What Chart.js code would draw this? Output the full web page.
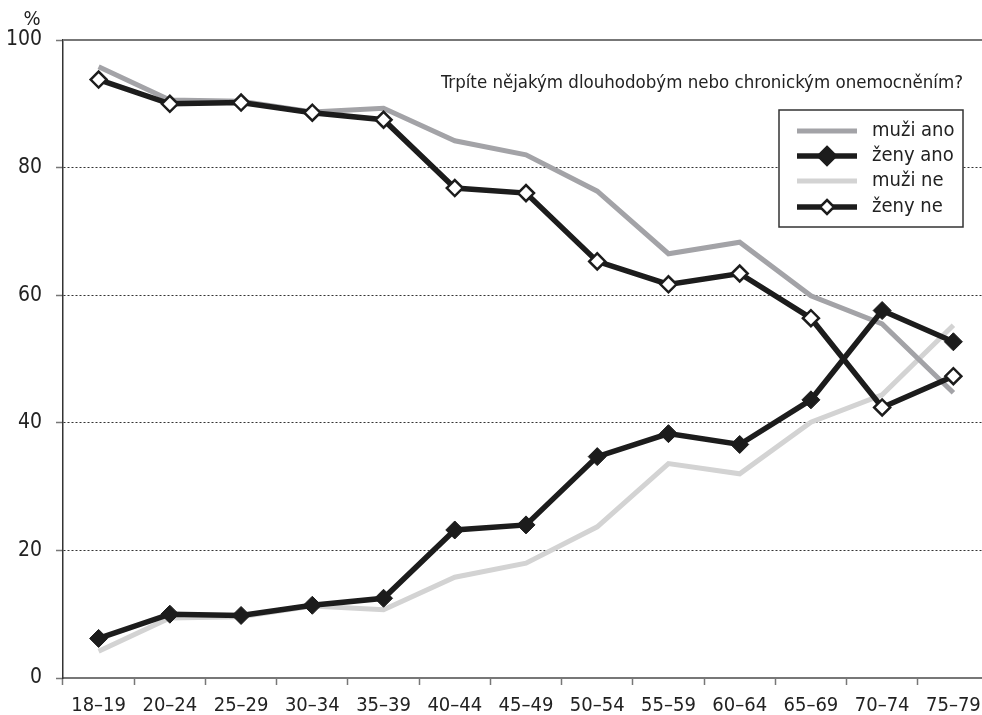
<!DOCTYPE html>
<html>
<head>
<meta charset="utf-8">
<script src="https://cdn.jsdelivr.net/npm/chart.js@4.4.1/dist/chart.umd.min.js"></script>
<style>
  html, body { margin: 0; padding: 0; overflow: hidden; background: #fff; }
  #wrap { width: 1000px; height: 715px; }
</style>
</head>
<body>
<div id="wrap"><canvas id="chart" width="1000" height="715"></canvas></div>
<script>
// age groups on the x axis
const categories = ["18–19", "20–24", "25–29", "30–34", "35–39", "40–44", "45–49",
                    "50–54", "55–59", "60–64", "65–69", "70–74", "75–79"];
const yTicks = [0, 20, 40, 60, 80, 100];

// share in % answering the question
const muziAno = [95.8, 90.6, 90.4, 88.7, 89.3, 84.2, 82.0, 76.3, 66.5, 68.3, 59.9, 55.5, 44.7];
const zenyAno = [6.2, 10.0, 9.8, 11.4, 12.5, 23.2, 24.0, 34.7, 38.3, 36.6, 43.6, 57.6, 52.7];
const muziNe  = [4.2, 9.4, 9.6, 11.3, 10.7, 15.8, 18.0, 23.7, 33.6, 32.0, 40.1, 44.4, 55.3];
const zenyNe  = [93.8, 90.0, 90.2, 88.6, 87.5, 76.8, 76.0, 65.3, 61.7, 63.4, 56.4, 42.4, 47.3];

const titleText = "Trpíte nějakým dlouhodobým nebo chronickým onemocněním?";
const FONT = "'Liberation Sans Narrow', 'DejaVu Sans Condensed', 'Arial Narrow', sans-serif";
const BLACK = "#1c1c1c";

function diamond(ctx, x, y, r, fill, lw) {
  ctx.beginPath();
  ctx.moveTo(x, y - r);
  ctx.lineTo(x + r, y);
  ctx.lineTo(x, y + r);
  ctx.lineTo(x - r, y);
  ctx.closePath();
  ctx.fillStyle = fill;
  ctx.fill();
  ctx.lineWidth = lw;
  ctx.strokeStyle = BLACK;
  ctx.stroke();
}

// top frame line, title, % label and the boxed legend
const extras = {
  id: "extras",
  beforeDatasetsDraw(chart) {
    const { ctx, chartArea: a } = chart;
    ctx.save();
    ctx.strokeStyle = "#777";
    ctx.lineWidth = 2;
    ctx.beginPath();
    ctx.moveTo(a.left, a.top);
    ctx.lineTo(a.right, a.top);
    ctx.stroke();
    ctx.restore();
  },
  afterDraw(chart) {
    const ctx = chart.ctx;
    ctx.save();
    ctx.fillStyle = "#222";
    ctx.font = "20px " + FONT;
    ctx.textAlign = "center";
    ctx.textBaseline = "middle";
    ctx.fillText("%", 32, 20);

    ctx.font = "18.5px " + FONT;
    ctx.textAlign = "right";
    ctx.fillText(titleText, 963, 83);

    // legend box
    const bx = 779, by = 110, bw = 184, bh = 117;
    ctx.fillStyle = "#fff";
    ctx.fillRect(bx, by, bw, bh);
    ctx.strokeStyle = "#333";
    ctx.lineWidth = 1.5;
    ctx.strokeRect(bx, by, bw, bh);

    const items = [
      { label: "muži ano", color: "#a3a3a7", width: 5, marker: null },
      { label: "ženy ano", color: BLACK, width: 5.5, marker: BLACK },
      { label: "muži ne", color: "#d3d3d3", width: 5, marker: null },
      { label: "ženy ne", color: BLACK, width: 5.5, marker: "#fff" }
    ];
    const rows = [131, 156, 181, 207];
    ctx.font = "20px " + FONT;
    ctx.textAlign = "left";
    items.forEach((it, i) => {
      const y = rows[i];
      ctx.strokeStyle = it.color;
      ctx.lineWidth = it.width;
      ctx.beginPath();
      ctx.moveTo(797, y);
      ctx.lineTo(857, y);
      ctx.stroke();
      if (it.marker) diamond(ctx, 827, y, it.marker === "#fff" ? 7 : 9, it.marker, 2.5);
      ctx.fillStyle = "#222";
      ctx.fillText(it.label, 872, y);
    });
    ctx.restore();
  }
};

const ctx = document.getElementById("chart").getContext("2d");
new Chart(ctx, {
  type: "line",
  data: {
    labels: categories,
    datasets: [
      {
        label: "ženy ne", data: zenyNe, order: 0,
        borderColor: BLACK, borderWidth: 5.5,
        pointStyle: "rectRot", pointRadius: 8, pointBorderWidth: 2.5,
        pointBackgroundColor: "#fff", pointBorderColor: BLACK
      },
      {
        label: "ženy ano", data: zenyAno, order: 1,
        borderColor: BLACK, borderWidth: 5.5,
        pointStyle: "rectRot", pointRadius: 9, pointBorderWidth: 1,
        pointBackgroundColor: BLACK, pointBorderColor: BLACK
      },
      {
        label: "muži ano", data: muziAno, order: 2,
        borderColor: "#a3a3a7", borderWidth: 5, pointRadius: 0
      },
      {
        label: "muži ne", data: muziNe, order: 3,
        borderColor: "#d3d3d3", borderWidth: 5, pointRadius: 0
      }
    ]
  },
  options: {
    responsive: false,
    animation: false,
    layout: { padding: { top: 40, right: 11, left: 0, bottom: 0 } },
    plugins: { legend: { display: false }, tooltip: { enabled: false } },
    elements: { line: { tension: 0, borderCapStyle: "butt", borderJoinStyle: "miter" } },
    scales: {
      x: {
        offset: true,
        grid: {
          offset: true, drawOnChartArea: false, drawTicks: true,
          tickLength: 7, tickColor: "#777", tickWidth: 1.5
        },
        border: { color: "#777", width: 2 },
        ticks: {
          autoSkip: false, maxRotation: 0, padding: 9,
          color: "#222", font: { family: FONT, size: 20 }
        },
        afterFit(scale) { scale.height = 37; }
      },
      y: {
        min: 0, max: 100,
        afterBuildTicks(scale) { scale.ticks = yTicks.map(v => ({ value: v })); },
        grid: {
          color: c => (c.tick && (c.tick.value === 0 || c.tick.value === 100)) ? "rgba(0,0,0,0)" : "#333",
          lineWidth: 1,
          drawTicks: true, tickLength: 7, tickColor: "#777", tickWidth: 1.5, tickBorderDash: []
        },
        border: { color: "#333", width: 1.5, dash: [2, 2] },
        ticks: {
          padding: 14, color: "#222", font: { family: FONT, size: 21 }
        },
        afterFit(scale) { scale.width = 63; }
      }
    }
  },
  plugins: [extras]
});
</script>
</body>
</html>
